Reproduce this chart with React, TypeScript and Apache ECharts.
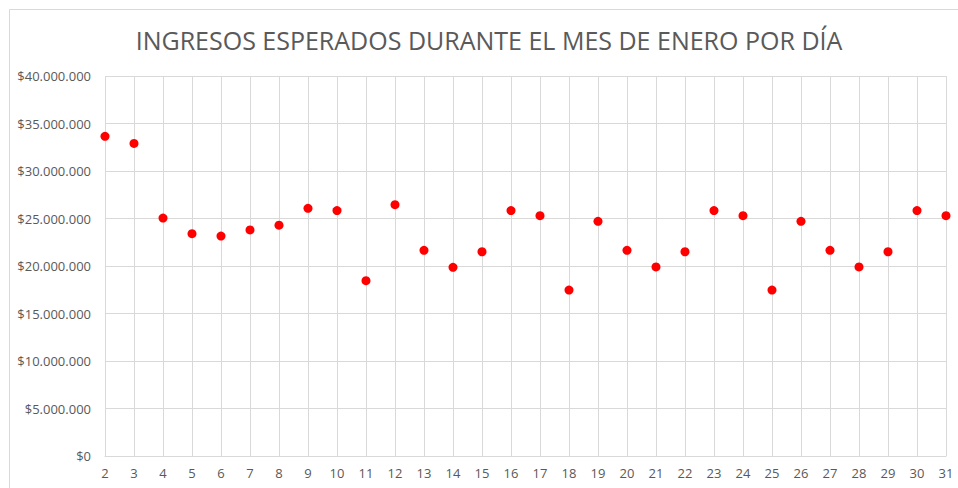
import React, { useEffect, useRef } from "react";
import * as echarts from "echarts";

const TITLE = "INGRESOS ESPERADOS DURANTE EL MES DE ENERO POR DÍA";
const days = [2, 3, 4, 5, 6, 7, 8, 9, 10, 11, 12, 13, 14, 15, 16, 17, 18, 19, 20, 21, 22, 23, 24, 25, 26, 27, 28, 29, 30, 31];
const ingresos = [
  33650000, 32900000, 25050000, 23400000, 23150000, 23800000, 24300000, 26070000, 25830000, 18460000,
  26460000, 21650000, 19860000, 21500000, 25830000, 25300000, 17470000, 24700000, 21650000, 19900000,
  21500000, 25830000, 25300000, 17470000, 24700000, 21650000, 19900000, 21500000, 25830000, 25300000,
];
const yMin = 0;
const yMax = 40000000;
const yStep = 5000000;
const xMin = 2;
const xMax = 31;

function formatPesos(v: number): string {
  const s = Math.round(v).toString().replace(/\B(?=(\d{3})+(?!\d))/g, ".");
  return "$" + s;
}

export default function App() {
  const ref = useRef<HTMLDivElement>(null);
  useEffect(() => {
    if (!ref.current) return;
    const chart = echarts.init(ref.current, undefined, { renderer: "svg" });
    const gray = "#d9d9d9";
    const textColor = "#595959";
    chart.setOption({
      animation: false,
      backgroundColor: "#ffffff",
      textStyle: { fontFamily: "Open Sans" },
      graphic: [
        {
          type: "rect",
          shape: { x: 9.5, y: 9.5, width: 970, height: 500 },
          style: { fill: "none", stroke: gray, lineWidth: 1 },
          z: 0,
        },
        {
          type: "text",
          x: 489,
          y: 40,
          style: {
            text: TITLE,
            fill: textColor,
            font: "25px 'Open Sans'",
            textAlign: "center",
            textVerticalAlign: "middle",
          },
        },
      ],
      grid: { left: 105, top: 76, width: 841, height: 380 },
      xAxis: {
        type: "value",
        min: xMin,
        max: xMax,
        interval: 1,
        axisLine: { show: true, lineStyle: { color: gray, width: 1 } },
        axisTick: { show: false },
        splitLine: { show: true, lineStyle: { color: gray, width: 1 } },
        axisLabel: { color: textColor, fontSize: 13, margin: 10, fontFamily: "Open Sans" },
      },
      yAxis: {
        type: "value",
        min: yMin,
        max: yMax,
        interval: yStep,
        axisLine: { show: false },
        axisTick: { show: false },
        splitLine: { show: true, lineStyle: { color: gray, width: 1 } },
        axisLabel: {
          color: textColor,
          fontSize: 13,
          margin: 14,
          fontFamily: "Open Sans",
          formatter: (v: number) => formatPesos(v),
        },
      },
      series: [
        {
          type: "scatter",
          data: days.map((d, i) => [d, ingresos[i]]),
          symbol: "circle",
          symbolSize: 9,
          itemStyle: { color: "#ff0000", opacity: 1 },
        },
      ],
    });
    return () => chart.dispose();
  }, []);
  return (
    <div
      ref={ref}
      style={{ position: "fixed", left: 0, top: 0, width: 958, height: 488 }}
    />
  );
}
